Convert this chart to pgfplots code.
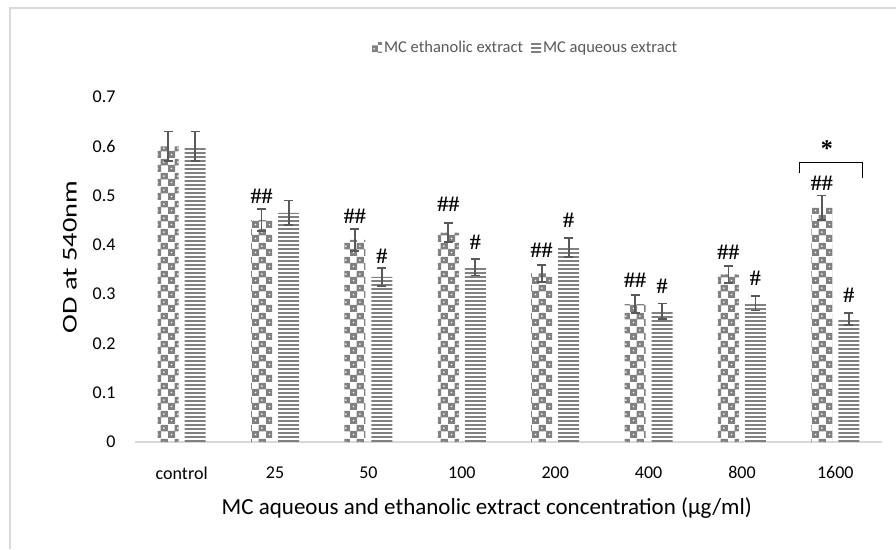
\documentclass[border=0pt]{standalone}
\usepackage{pgfplots}
\pgfplotsset{compat=1.18}
\usepackage{pgfplotstable}
\usepackage{fontspec}
\setmainfont{Carlito}
\newfontfamily\serifhash{Liberation Serif}
\usetikzlibrary{patterns.meta}

\definecolor{barGray}{HTML}{808080}
\definecolor{errGray}{HTML}{595959}
\definecolor{txtGray}{HTML}{595959}
\definecolor{frameGray}{HTML}{D9D9D9}

% checker with small holes, like the Excel fill
\tikzdeclarepattern{
  name=checkdots, type=colored,
  bottom left={(0pt,0pt)}, top right={(14pt,14pt)}, tile size={(14pt,14pt)},
  code={
    \fill[barGray, even odd rule] (0pt,0pt) rectangle (7.5pt,7.5pt) (3.7pt,3.7pt) circle (1.2pt)
      (7pt,7pt) rectangle (14pt,14pt) (10.5pt,10.5pt) circle (1.2pt);
  }
}
\tikzdeclarepattern{
  name=hstripes, type=colored,
  bottom left={(0pt,0pt)}, top right={(4pt,4pt)}, tile size={(4pt,4pt)},
  code={\fill[barGray] (0pt,0pt) rectangle (4pt,2.2pt);}
}

% x: group, eth/aq means and errors
\pgfplotstableread{
x eth etherr aq aqerr
0 0.600 0.030 0.600 0.030
1 0.450 0.022 0.465 0.025
2 0.410 0.022 0.335 0.018
3 0.425 0.020 0.355 0.017
4 0.342 0.017 0.395 0.019
5 0.280 0.018 0.265 0.016
6 0.340 0.017 0.282 0.015
7 0.475 0.025 0.250 0.012
}\datatable

\begin{document}
\begin{tikzpicture}[x=1pt,y=1pt]
\useasboundingbox (0,0) rectangle (896,549);
\draw[frameGray, line width=2pt] (9.5,0) -- (9.5,541) -- (896,541);

\begin{axis}[
    at={(135pt,107pt)}, anchor=south west,
    scale only axis, width=747pt, height=345pt,
    xmin=-0.5, xmax=7.5, ymin=0, ymax=0.7,
    xtick={0,...,7},
    xticklabels={control,25,50,100,200,400,800,1600},
    ytick={0,0.1,...,0.7},
    yticklabel style={/pgf/number format/fixed, /pgf/number format/precision=1, xshift=-16pt},
    /pgf/number format/assume math mode=true,
    xticklabel style={yshift=-21pt},
    major tick length=0pt,
    axis lines*=left,
    y axis line style={draw=none},
    x axis line style={draw=frameGray, line width=1.5pt, -},
    tick label style={font=\fontsize{18}{20}\selectfont, text=black},
    xlabel={MC aqueous and ethanolic extract concentration (µg/ml)},
    ylabel={\scalebox{1.35}[1]{OD at 540nm}},
    xlabel style={font=\fontsize{23}{26}\selectfont, at={(rel axis cs:0.471,-0.191)}, anchor=center},
    ylabel style={font=\fontsize{21}{24}\selectfont, at={(rel axis cs:-0.087,0.536)}, anchor=center, rotate=0},
    legend columns=2,
    legend style={at={(rel axis cs:0.523,1.142)}, anchor=center, draw=none,
      font=\fontsize{16.5}{18}\selectfont, text=txtGray,
      /tikz/every even column/.append style={column sep=6pt}},
    legend image code/.code={\path[#1] (0pt,-4pt) rectangle (10pt,6pt);},
    clip=false,
]
\addplot[ybar, bar width=21pt, bar shift=0pt, draw=none, pattern=checkdots,
    error bars/.cd, y dir=both, y explicit,
    error bar style={line width=1.8pt, errGray},
    error mark options={rotate=90, mark size=4.5pt, line width=1.8pt, errGray}]
    table[x expr=\thisrow{x}-0.145, y=eth, y error=etherr] {\datatable};
\addlegendentry{MC ethanolic extract}
\addplot[ybar, bar width=21pt, bar shift=0pt, draw=none, pattern=hstripes,
    error bars/.cd, y dir=both, y explicit,
    error bar style={line width=1.8pt, errGray},
    error mark options={rotate=90, mark size=4.5pt, line width=1.8pt, errGray}]
    table[x expr=\thisrow{x}+0.145, y=aq, y error=aqerr] {\datatable};
\addlegendentry{MC aqueous extract}

% significance marks
\addplot[only marks, mark=none, point meta=explicit symbolic, nodes near coords,
    nodes near coords style={anchor=center, inner sep=0pt, font=\serifhash\bfseries\fontsize{22}{24}\selectfont}]
    coordinates {
    (0.855,0.499) [\#\#]
    (1.855,0.458) [\#\#]
    (2.145,0.377) [\#]
    (2.855,0.483) [\#\#]
    (3.145,0.406) [\#]
    (3.855,0.389) [\#\#]
    (4.145,0.450) [\#]
    (4.855,0.329) [\#\#]
    (5.145,0.316) [\#]
    (5.855,0.385) [\#\#]
    (6.145,0.333) [\#]
    (6.855,0.525) [\#\#]
    (7.145,0.298) [\#]
    };
\draw[black, line width=0.8pt] (axis cs:6.61,0.545) -- (axis cs:6.61,0.568) -- (axis cs:7.29,0.568) -- (axis cs:7.29,0.535);
\node[font=\serifhash\bfseries\fontsize{24}{26}\selectfont] at (axis cs:6.91,0.596) {*};
\end{axis}
\end{tikzpicture}
\end{document}
